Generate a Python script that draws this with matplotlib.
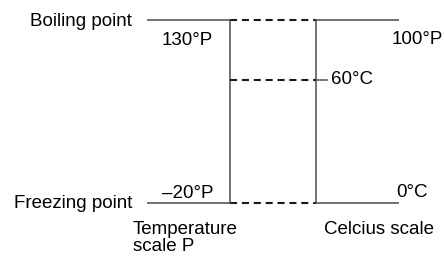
import matplotlib.pyplot as plt

plt.rcParams['font.family'] = ['Liberation Sans', 'DejaVu Sans']

# diagram layout (pixel-like coordinates, y grows downward)
x_left, x_p, x_c, x_right = 147, 230, 316, 399
y_boil, y_mid, y_freeze = 20, 80, 203

point_names = ['Boiling point', 'Freezing point']
p_labels = ['130°P', '\u201320°P']
c_labels = ['100°P', '0°C']
mid_label = '60°C'
scale_names = ['Temperature\nscale P', 'Celcius scale']

col = '#4a4a4a'
dash_col = '#1a1a1a'
lw = 1.1
dlw = 1.5
dash = (3.4, 2.3)
fs = 13.5

fig = plt.figure(figsize=(4.44, 2.59), dpi=100)
ax = fig.add_axes([0, 0, 1, 1])
ax.set_xlim(0, 444)
ax.set_ylim(259, 0)
ax.axis('off')

for y in (y_boil, y_freeze):
    ax.plot([x_left, x_p], [y, y], color=col, lw=lw, solid_capstyle='butt')
    ax.plot([x_p, x_c], [y, y], color=dash_col, lw=dlw, dashes=dash)
    ax.plot([x_c, x_right], [y, y], color=col, lw=lw, solid_capstyle='butt')

ax.plot([x_p, x_p], [y_boil, y_freeze], color=col, lw=lw)
ax.plot([x_c, x_c], [y_boil, y_freeze], color=col, lw=lw)
ax.plot([x_p, x_c], [y_mid, y_mid], color=dash_col, lw=dlw, dashes=dash)
ax.plot([x_c, x_c + 11], [y_mid, y_mid], color=col, lw=lw)

ax.text(132, y_boil + 1, point_names[0], ha='right', va='center', fontsize=fs)
ax.text(132, y_freeze, point_names[1], ha='right', va='center', fontsize=fs)

ax.text(213, 45, p_labels[0], ha='right', va='baseline', fontsize=fs)
ax.text(213, 198, p_labels[1], ha='right', va='baseline', fontsize=fs)
ax.text(443, 44, c_labels[0], ha='right', va='baseline', fontsize=fs)
ax.text(428, 197, c_labels[1], ha='right', va='baseline', fontsize=fs)
ax.text(331, y_mid, mid_label, ha='left', va='center', fontsize=fs)

ax.text(133, 221, scale_names[0], ha='left', va='top', fontsize=fs,
        linespacing=1.0)
ax.text(324, 221, scale_names[1], ha='left', va='top', fontsize=fs)

fig.savefig('out.png', dpi=100)
